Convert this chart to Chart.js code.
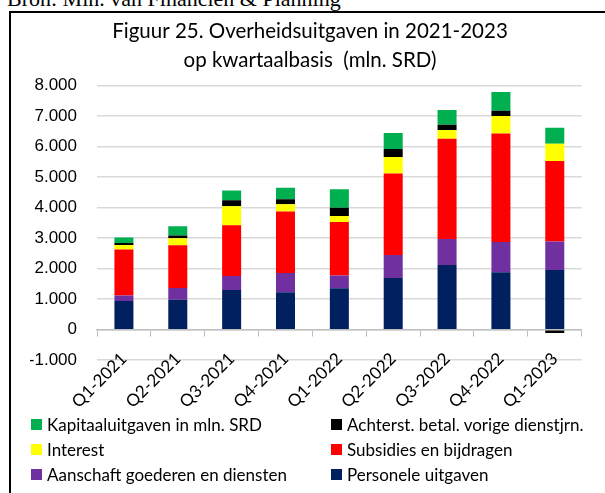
<!DOCTYPE html>
<html>
<head>
<meta charset="utf-8">
<script src="https://cdn.jsdelivr.net/npm/chart.js@4.4.1/dist/chart.umd.min.js"></script>
<style>
  html, body { margin: 0; padding: 0; width: 605px; height: 493px; overflow: hidden; background: #fff; }
  #bron { position: absolute; left: 7px; top: -11.7px; line-height: 22px; font-family: "Liberation Serif", "Times New Roman", serif; font-size: 22px; color: #000; white-space: nowrap; }
  #frameTop { position: absolute; left: 9px; top: 11px; width: 600px; height: 2px; background: #000; }
  #frameLeft { position: absolute; left: 9px; top: 11px; width: 2px; height: 490px; background: #000; }
  #wrap { position: absolute; left: 0; top: 0; width: 605px; height: 493px; }
  #legend { position: absolute; left: 0; top: 0; width: 605px; height: 493px; pointer-events: none; }
  .li { position: absolute; display: flex; align-items: center; font-family: "Lato", "Open Sans", sans-serif; font-size: 17px; color: #000; white-space: nowrap; }
  .li i { display: inline-block; width: 11px; height: 11px; margin-right: 5px; }
</style>
</head>
<body>
<div id="bron">Bron: Min. van Financiën &amp; Planning</div>
<div id="wrap"><canvas id="c" width="605" height="493"></canvas></div>
<div id="frameTop"></div>
<div id="frameLeft"></div>
<div id="legend"></div>
<script>
const categories = ['Q1-2021','Q2-2021','Q3-2021','Q4-2021','Q1-2022','Q2-2022','Q3-2022','Q4-2022','Q1-2023'];
const personele = [940, 983, 1298, 1223, 1354, 1692, 2118, 1879, 1954];
const aanschaft = [175, 381, 459, 633, 416, 754, 852, 993, 931];
const subsidies = [1508, 1400, 1663, 2013, 1758, 2669, 3279, 3554, 2633];
const interest = [150, 229, 623, 239, 197, 534, 285, 567, 567];
const achterst = [65, 89, 196, 164, 262, 262, 174, 174, -110];
const kapitaal = [176, 305, 318, 371, 613, 525, 482, 613, 525];
const yTicks = [-1000, 0, 1000, 2000, 3000, 4000, 5000, 6000, 7000, 8000];
const titleLines = ['Figuur 25. Overheidsuitgaven in 2021-2023', 'op kwartaalbasis  (mln. SRD)'];

function fmt(v) {
  const s = Math.abs(v).toString().replace(/\B(?=(\d{3})+(?!\d))/g, '.');
  return (v < 0 ? '-' : '') + s;
}

const datasets = [
  { label: 'Personele uitgaven', data: personele, backgroundColor: '#002060' },
  { label: 'Aanschaft goederen en diensten', data: aanschaft, backgroundColor: '#7030A0' },
  { label: 'Subsidies en bijdragen', data: subsidies, backgroundColor: '#FF0000' },
  { label: 'Interest', data: interest, backgroundColor: '#FFFF00' },
  { label: 'Achterst. betal. vorige dienstjrn.', data: achterst, backgroundColor: '#000000' },
  { label: 'Kapitaaluitgaven in mln. SRD', data: kapitaal, backgroundColor: '#00B050' }
];
datasets.forEach(d => { d.borderWidth = 0; d.barPercentage = 0.353; d.categoryPercentage = 1.0; d.yAxisID = 'y'; });

const chart = new Chart(document.getElementById('c'), {
  type: 'bar',
  data: { labels: categories, datasets: datasets },
  options: {
    responsive: false,
    animation: false,
    devicePixelRatio: 1,
    layout: { padding: { left: 30, right: 15, top: 0, bottom: 132.8 } },
    plugins: {
      legend: { display: false },
      tooltip: { enabled: false },
      title: {
        display: true,
        text: titleLines,
        color: '#000',
        font: { family: 'Lato', size: 20.5, weight: 'normal', lineHeight: 29/20.5 },
        padding: { top: 16.5, bottom: 10.8 }
      }
    },
    scales: {
      x: {
        stacked: true,
        position: { y: 0 },
        grid: { display: true, drawOnChartArea: false, drawTicks: true, tickLength: 6, color: '#bfbfbf', lineWidth: 1, offset: true },
        border: { display: true, color: '#bfbfbf', width: 1.5 },
        ticks: { autoSkip: false, maxRotation: 45, minRotation: 45, padding: 13, color: '#000', font: { family: 'Lato', size: 17 } }
      },
      y: {
        stacked: true,
        min: -1000,
        max: 8000,
        afterFit: (s) => { s.width = 67; },
        afterBuildTicks: (s) => { s.ticks = yTicks.map(v => ({ value: v })); },
        grid: { color: '#d9d9d9', lineWidth: 1.5, drawTicks: false },
        border: { display: false },
        ticks: { padding: 20, color: '#000', font: { family: 'Liberation Sans', size: 17 }, callback: (v) => fmt(v) }
      },
      yRight: {
        position: 'right',
        display: true,
        afterFit: (s) => { s.width = 8.3; },
        grid: { display: false, drawTicks: false },
        border: { display: false },
        ticks: { display: false }
      }
    }
  }
});

const legendOrder = [
  ['Kapitaaluitgaven in mln. SRD', 'Achterst. betal. vorige dienstjrn.'],
  ['Interest', 'Subsidies en bijdragen'],
  ['Aanschaft goederen en diensten', 'Personele uitgaven']
];
const colX = [31, 331];
const rowY = [424, 449, 474];
const lg = document.getElementById('legend');
legendOrder.forEach((row, r) => {
  row.forEach((name, c) => {
    const ds = chart.data.datasets.find(d => d.label === name);
    const el = document.createElement('div');
    el.className = 'li';
    el.style.left = colX[c] + 'px';
    el.style.top = (rowY[r] - 12) + 'px';
    el.style.height = '24px';
    const sw = document.createElement('i');
    sw.style.background = ds.backgroundColor;
    el.appendChild(sw);
    el.appendChild(document.createTextNode(ds.label));
    lg.appendChild(el);
  });
});
</script>
</body>
</html>
